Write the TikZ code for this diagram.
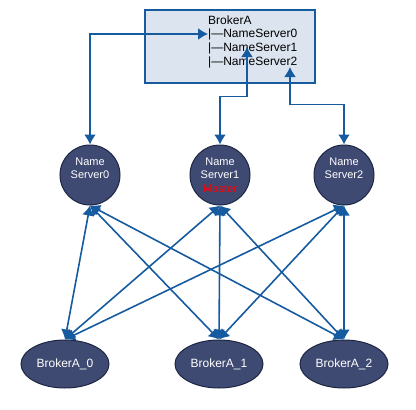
\documentclass[tikz,border=0pt]{standalone}
\usepackage{fontspec}
\setmainfont{Liberation Sans}
\usetikzlibrary{arrows.meta, shapes.geometric}
\definecolor{linkblue}{HTML}{165B9F}
\definecolor{nodefill}{HTML}{3F4A72}
\definecolor{nodeline}{HTML}{1C2642}
\definecolor{boxfill}{HTML}{DCE4EF}

\begin{document}
\begin{tikzpicture}[x=1pt, y=-1pt,
  link/.style={draw=linkblue, line width=1.6pt, {Latex[length=10pt,width=12pt]}-{Latex[length=10pt,width=12pt]}},
  ns/.style={draw=nodeline, fill=nodefill, circle, line width=1pt, minimum size=60pt, inner sep=0pt, text=white, align=center, font=\fontsize{11}{13.5}\selectfont},
  bk/.style={draw=nodeline, fill=nodefill, ellipse, line width=1pt, minimum width=88pt, minimum height=48pt, inner sep=0pt, text=white, font=\fontsize{12}{14}\selectfont},
  tx/.style={anchor=west, inner sep=0pt, font=\fontsize{12}{14}\selectfont}]
\useasboundingbox (0,0) rectangle (416,410);
% broker table
\node[draw=linkblue, fill=boxfill, line width=1.2pt, minimum width=170pt, minimum height=73pt] (box) at (230,46.5) {};
\node[tx] (t) at (208,20) {BrokerA};
\node[tx] (t0) at (208,34) {|—NameServer0};
\node[tx] (t1) at (208,48) {|—NameServer1};
\node[tx] (t2) at (208,62) {|—NameServer2};
\coordinate (e1) at (247,47);
\coordinate (e2) at (290,67);
% name servers
\node[ns] (n0) at (90,175) {Name\\Server0\\\mbox{}};
\node[ns] (n1) at (220,175) {Name\\Server1\\{\color{red}Master}};
\node[ns] (n2) at (344,175) {Name\\Server2\\\mbox{}};
% brokers
\node[bk] (b0) at (65,364) {BrokerA\_0};
\node[bk] (b1) at (219,364) {BrokerA\_1};
\node[bk] (b2) at (344,364) {BrokerA\_2};
\draw [link] (n0.north) |- (t0.west);
\draw [link] (n1.north) -- ++(0,-48) -| (e1);
\draw [link] (n2.north) -- ++(0,-40) -| (e2);
\draw [link] (n0.south) -- (b0.north);
\draw [link] (n0.south) -- (b1.north);
\draw [link] (n0.south) -- (b2.north);
\draw [link] (n1.south) -- (b0.north);
\draw [link] (n1.south) -- (b1.north);
\draw [link] (n1.south) -- (b2.north);
\draw [link] (n2.south) -- (b0.north);
\draw [link] (n2.south) -- (b1.north);
\draw [link] (n2.south) -- (b2.north);
\end{tikzpicture}
\end{document}
